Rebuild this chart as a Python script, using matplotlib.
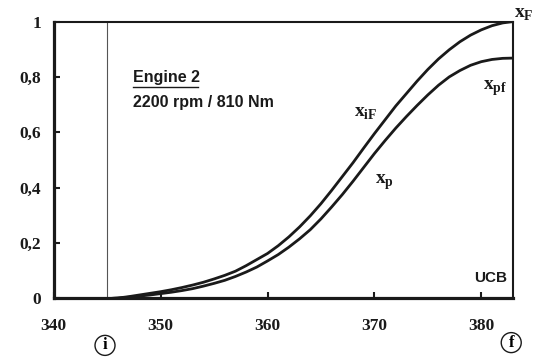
import numpy as np
import matplotlib.pyplot as plt

plt.rcParams['mathtext.fontset'] = 'custom'
plt.rcParams['mathtext.rm'] = 'Liberation Serif'
plt.rcParams['mathtext.bf'] = 'Liberation Serif:bold'

# crank angle (deg) and burned fractions
ca = [345.5, 346, 347, 348, 349, 350, 351, 352, 353, 354, 355, 356, 357, 358,
      359, 360, 361, 362, 363, 364, 365, 366, 367, 368, 369, 370, 371, 372,
      373, 374, 375, 376, 377, 378, 379, 380, 381, 382, 383]
x_iF = [0, 0.001, 0.006, 0.012, 0.018, 0.024, 0.031, 0.039, 0.048, 0.058,
        0.07, 0.083, 0.098, 0.118, 0.14, 0.162, 0.19, 0.222, 0.258, 0.298,
        0.342, 0.39, 0.44, 0.49, 0.543, 0.595, 0.645, 0.695, 0.74, 0.785,
        0.827, 0.865, 0.898, 0.927, 0.951, 0.97, 0.985, 0.995, 1.0]
x_p = [0, 0.001, 0.004, 0.008, 0.012, 0.017, 0.022, 0.028, 0.035, 0.044,
       0.054, 0.065, 0.079, 0.095, 0.113, 0.135, 0.158, 0.185, 0.215, 0.248,
       0.287, 0.33, 0.375, 0.423, 0.473, 0.523, 0.57, 0.615, 0.657, 0.697,
       0.735, 0.77, 0.8, 0.823, 0.842, 0.855, 0.863, 0.867, 0.868]

xticks = [340, 350, 360, 370, 380]
yticks = [0, 0.2, 0.4, 0.6, 0.8, 1]
ylabels = ['0', '0,2', '0,4', '0,6', '0,8', '1']

fig = plt.figure(figsize=(5.37, 3.59), dpi=100)
ax = fig.add_axes([0.100, 0.169, 0.856, 0.771])

ax.plot(ca, x_iF, color='#1a1a1a', lw=2.0, solid_joinstyle='round')
ax.plot(ca, x_p, color='#1a1a1a', lw=2.0, solid_joinstyle='round')
ax.plot([345, 345], [0, 1], color='#555555', lw=0.8)

ax.set_xlim(340, 383)
ax.set_ylim(0, 1)
ax.set_xticks(xticks)
ax.set_yticks(yticks)
ax.set_yticklabels(ylabels)

for s in ['left', 'bottom']:
    ax.spines[s].set_linewidth(2.3)
for s in ['top', 'right']:
    ax.spines[s].set_linewidth(1.5)
for s in ax.spines.values():
    s.set_color('#1a1a1a')

ax.tick_params(axis='both', direction='in', length=4, width=1.5, colors='#1a1a1a')
ax.tick_params(axis='x', pad=14)
ax.tick_params(axis='y', pad=9)
for lab in ax.get_xticklabels() + ax.get_yticklabels():
    lab.set_fontfamily('Liberation Serif')
    lab.set_fontweight('bold')
    lab.set_fontsize(12.5)

ax.text(347.4, 0.78, 'Engine 2', fontfamily='Liberation Sans', fontweight='bold',
        fontsize=11.5, color='#1a1a1a')
ax.plot([347.45, 353.5], [0.765, 0.765], color='#1a1a1a', lw=1.0)
ax.text(347.4, 0.69, '2200 rpm / 810 Nm', fontfamily='Liberation Sans',
        fontweight='bold', fontsize=11.5, color='#1a1a1a')
ax.text(382.4, 0.06, 'UCB', fontfamily='Liberation Sans', fontweight='bold',
        fontsize=11, ha='right', color='#1a1a1a')

lab_kw = dict(fontsize=14, ha='center', va='center', color='#1a1a1a', clip_on=False)
ax.text(369.2, 0.67, r'$\mathbf{x}_{\mathbf{iF}}$', **lab_kw)
ax.text(370.9, 0.42, r'$\mathbf{x}_{\mathbf{p}}$', **lab_kw)
ax.text(381.3, 0.76, r'$\mathbf{x}_{\mathbf{pf}}$', **lab_kw)
ax.text(384.0, 1.03, r'$\mathbf{x}_{\mathbf{F}}$', **lab_kw)

circ = dict(boxstyle='circle,pad=0.12', fc='white', ec='#1a1a1a', lw=1.0)
ax.text(344.8, -0.17, 'i', fontfamily='Liberation Serif', fontweight='bold',
        fontsize=12, ha='center', va='center', bbox=circ, clip_on=False)
ax.text(382.8, -0.16, 'f', fontfamily='Liberation Serif', fontweight='bold',
        fontsize=12, ha='center', va='center', bbox=circ, clip_on=False)

plt.savefig('out.png', dpi=100)
